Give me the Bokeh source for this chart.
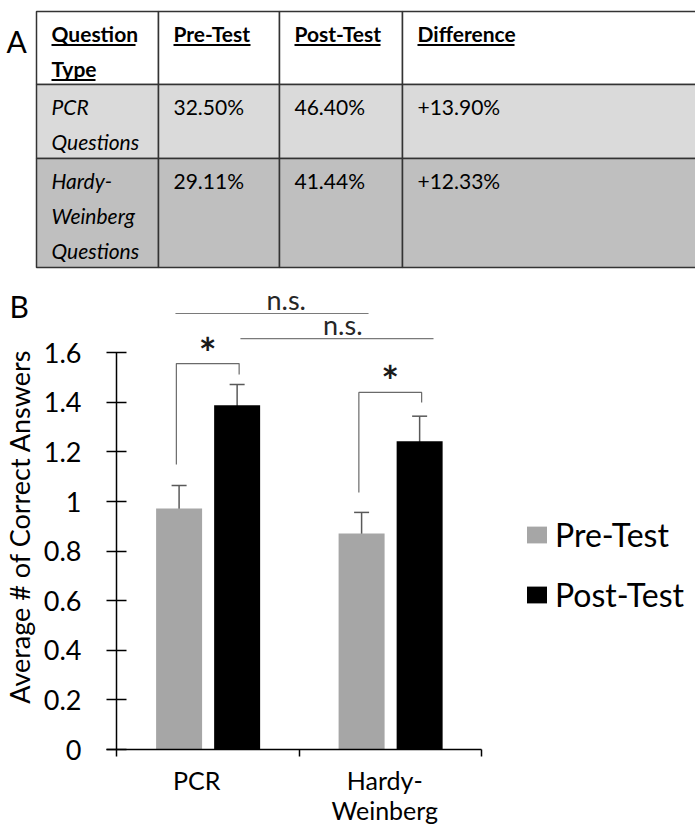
import math
from bokeh.plotting import figure
from bokeh.models import (Range1d, ColumnDataSource, Whisker, TeeHead, FixedTicker,
                          CustomJSTickFormatter, Legend, LegendItem)
from bokeh.core.properties import value
from bokeh.embed import file_html
from bokeh.resources import INLINE

FONT = "Lato"

# ---------------- data: panel A (table) ----------------
table_headers = ["Question\nType", "Pre-Test", "Post-Test", "Difference"]
question_types = ["PCR\nQuestions", "Hardy-\nWeinberg\nQuestions"]
pre_test_pct = [32.50, 29.11]
post_test_pct = [46.40, 41.44]
difference_pct = [13.90, 12.33]

# ---------------- data: panel B (bar chart) ----------------
categories = ["PCR", "Hardy-\nWeinberg"]
series_names = ["Pre-Test", "Post-Test"]
y_title = "Average # of Correct Answers"
pre_mean = [0.972, 0.871]
post_mean = [1.388, 1.243]
pre_sem = [0.093, 0.085]
post_sem = [0.084, 0.101]
y_ticks = [0, 0.2, 0.4, 0.6, 0.8, 1, 1.2, 1.4, 1.6]

# significance annotations (within-group brackets)
sig_bracket_top = [1.556, 1.440]
sig_left_end = [1.149, 1.036]
sig_right_end = [1.512, 1.399]
sig_marks = ["*", "*"]
# between-group comparisons (n.s.)
ns_line_y = [1.758, 1.657]
ns_line_x0 = [0.323, 0.679]
ns_line_x1 = [1.381, 1.737]
ns_text_x = [0.93, 1.24]
ns_labels = ["n.s.", "n.s."]

# ---------------- layout: one figure, chart in data units ----------------
ORIGIN = 1                         # where the canvas lands on the page
W, H = 695, 824
X0_PX, Y0_PX = 117.0, 750.0        # where data (0, 0) sits on the page
SX, SY = 182.5, 248.0              # pixels per data unit


def tx(px):
    return (px - X0_PX) / SX


def ty(py):
    return (Y0_PX - py) / SY


p = figure(width=W, height=H, x_range=Range1d(tx(ORIGIN), tx(ORIGIN + W)),
           y_range=Range1d(ty(ORIGIN + H), ty(ORIGIN)),
           output_backend="svg", toolbar_location=None, min_border=0,
           outline_line_color=None)
p.grid.visible = False

# ================= panel A: table =================
col_edges = [37, 159, 280, 403, 740]
row_edges = [12, 85, 159, 268]
row_fills = ["white", "#dadada", "#bfbfbf"]

rows = [table_headers]
for i in range(len(question_types)):
    rows.append([question_types[i], "%.2f%%" % pre_test_pct[i],
                 "%.2f%%" % post_test_pct[i], "+%.2f%%" % difference_pct[i]])

ql, qr, qt, qb, qf = [], [], [], [], []
for r in range(len(rows)):
    for c in range(4):
        ql.append(tx(col_edges[c])); qr.append(tx(col_edges[c + 1]))
        qt.append(ty(row_edges[r])); qb.append(ty(row_edges[r + 1]))
        qf.append(row_fills[r])
p.quad(left=ql, right=qr, top=qt, bottom=qb, fill_color=qf,
       line_color="#333333", line_width=1.5)

underline_w = {"Question": 84, "Type": 44, "Pre-Test": 77, "Post-Test": 86, "Difference": 97}
for style in ("bold", "italic", "normal"):
    xs, ys, ts = [], [], []
    for r, row in enumerate(rows):
        for c, cell in enumerate(row):
            st = "bold" if r == 0 else ("italic" if c == 0 else "normal")
            if st != style:
                continue
            for k, line in enumerate(cell.split("\n")):
                xs.append(tx(col_edges[c] + 15))
                ys.append(ty(row_edges[r] + 21.5 + k * 35))
                ts.append(line)
    p.text(x=xs, y=ys, text=ts, text_font=value(FONT), text_font_size="21px",
           text_font_style=style, text_color="black", text_baseline="middle")

ux0, ux1, uy = [], [], []
for c, cell in enumerate(table_headers):
    for k, line in enumerate(cell.split("\n")):
        ux0.append(tx(col_edges[c] + 15))
        ux1.append(tx(col_edges[c] + 15 + underline_w[line]))
        uy.append(ty(row_edges[0] + 21.5 + 12 + k * 35))
p.segment(x0=ux0, y0=uy, x1=ux1, y1=uy, line_color="black", line_width=2)

p.text(x=[tx(7), tx(10)], y=[ty(41), ty(306)], text=["A", "B"], text_font=value(FONT),
       text_font_size="30px", text_color="black", text_baseline="middle")

# ================= panel B: bar chart =================
n = len(categories)
x_pre = [i + 0.5 - 0.157 for i in range(n)]
x_post = [i + 0.5 + 0.161 for i in range(n)]
src_pre = ColumnDataSource(dict(x=x_pre, top=pre_mean,
                                upper=[m + s for m, s in zip(pre_mean, pre_sem)],
                                lower=[m - s for m, s in zip(pre_mean, pre_sem)]))
src_post = ColumnDataSource(dict(x=x_post, top=post_mean,
                                 upper=[m + s for m, s in zip(post_mean, post_sem)],
                                 lower=[m - s for m, s in zip(post_mean, post_sem)]))
r_pre = p.vbar(x="x", top="top", bottom=0, width=0.252, source=src_pre,
               fill_color="#a6a6a6", line_color=None)
r_post = p.vbar(x="x", top="top", bottom=0, width=0.252, source=src_post,
                fill_color="black", line_color=None)

ERR = "#595959"
for src in (src_pre, src_post):
    p.add_layout(Whisker(source=src, base="x", upper="upper", lower="lower",
                         line_color=ERR, line_width=1.5,
                         upper_head=TeeHead(size=15, line_color=ERR, line_width=1.5),
                         lower_head=TeeHead(size=15, line_color=ERR, line_width=1.5)))

# significance brackets
bx, by = [], []
for i in range(n):
    L, R = i + 0.5 - 0.172, i + 0.5 + 0.172
    bx.append([L, L, R, R])
    by.append([sig_left_end[i], sig_bracket_top[i], sig_bracket_top[i], sig_right_end[i]])
p.multi_line(xs=bx, ys=by, line_color="#6a6a6a", line_width=1.2)
p.text(x=[i + 0.5 for i in range(n)], y=[t + 11 / SY for t in sig_bracket_top], text=sig_marks,
       text_align="center", text_baseline="middle", text_font=value(FONT),
       text_font_size="42px", text_font_style="bold", text_color="#1a1a1a")

p.segment(x0=ns_line_x0, y0=ns_line_y, x1=ns_line_x1, y1=ns_line_y,
          line_color="#7a7a7a", line_width=1.2)
p.text(x=ns_text_x, y=[y + 14.5 / SY for y in ns_line_y], text=ns_labels,
       text_align="center", text_baseline="middle", text_font=value(FONT),
       text_font_size="27px", text_color="#262626")

# y-axis title (centred as in the original, a little above the axis middle)
p.text(x=[tx(20)], y=[ty(527)], text=[y_title], angle=math.pi / 2,
       text_align="center", text_baseline="middle", text_font=value(FONT),
       text_font_size="27px", text_color="black")

# y axis (drawn at x = 0)
ya = p.yaxis[0]
ya.fixed_location = 0
ya.ticker = FixedTicker(ticks=y_ticks)
ya.formatter = CustomJSTickFormatter(code="return tick.toString();")
ya.bounds = (0, 1.6)
ya.major_tick_in = 10
ya.major_tick_out = 10
ya.minor_tick_in = 0
ya.minor_tick_out = 0
ya.axis_line_width = 1.5
ya.axis_line_color = "black"
ya.major_tick_line_width = 1.5
ya.major_tick_line_color = "black"
ya.major_label_text_font = FONT
ya.major_label_text_font_size = "27px"
ya.major_label_text_color = "black"
ya.major_label_standoff = 25

# x axis (drawn at y = 0)
xa = p.xaxis[0]
xa.fixed_location = 0
xa.ticker = FixedTicker(ticks=[0.44, 1.47], minor_ticks=[0, 1, 2])
xa.formatter = CustomJSTickFormatter(args=dict(names=categories),
                                     code="return names[Math.floor(tick)];")
xa.bounds = (tx(107), 2)
xa.major_tick_in = 0
xa.major_tick_out = 0
xa.minor_tick_in = 0
xa.minor_tick_out = 7
xa.minor_tick_line_width = 1.5
xa.minor_tick_line_color = "black"
xa.axis_line_width = 1.5
xa.axis_line_color = "black"
xa.major_label_text_font = FONT
xa.major_label_text_font_size = "25px"
xa.major_label_text_color = "black"
xa.major_label_text_line_height = 1.0
xa.major_label_standoff = 8

legend = Legend(items=[LegendItem(label=series_names[0], renderers=[r_pre]),
                       LegendItem(label=series_names[1], renderers=[r_post])],
                location=(524, 210), orientation="vertical",
                glyph_width=25, glyph_height=21, label_standoff=6, spacing=21,
                padding=0, margin=0, border_line_color=None, background_fill_alpha=0,
                label_text_font=FONT, label_text_font_size="32px", label_text_color="black")
p.add_layout(legend)

open("out.html", "w").write(file_html(p, INLINE))
